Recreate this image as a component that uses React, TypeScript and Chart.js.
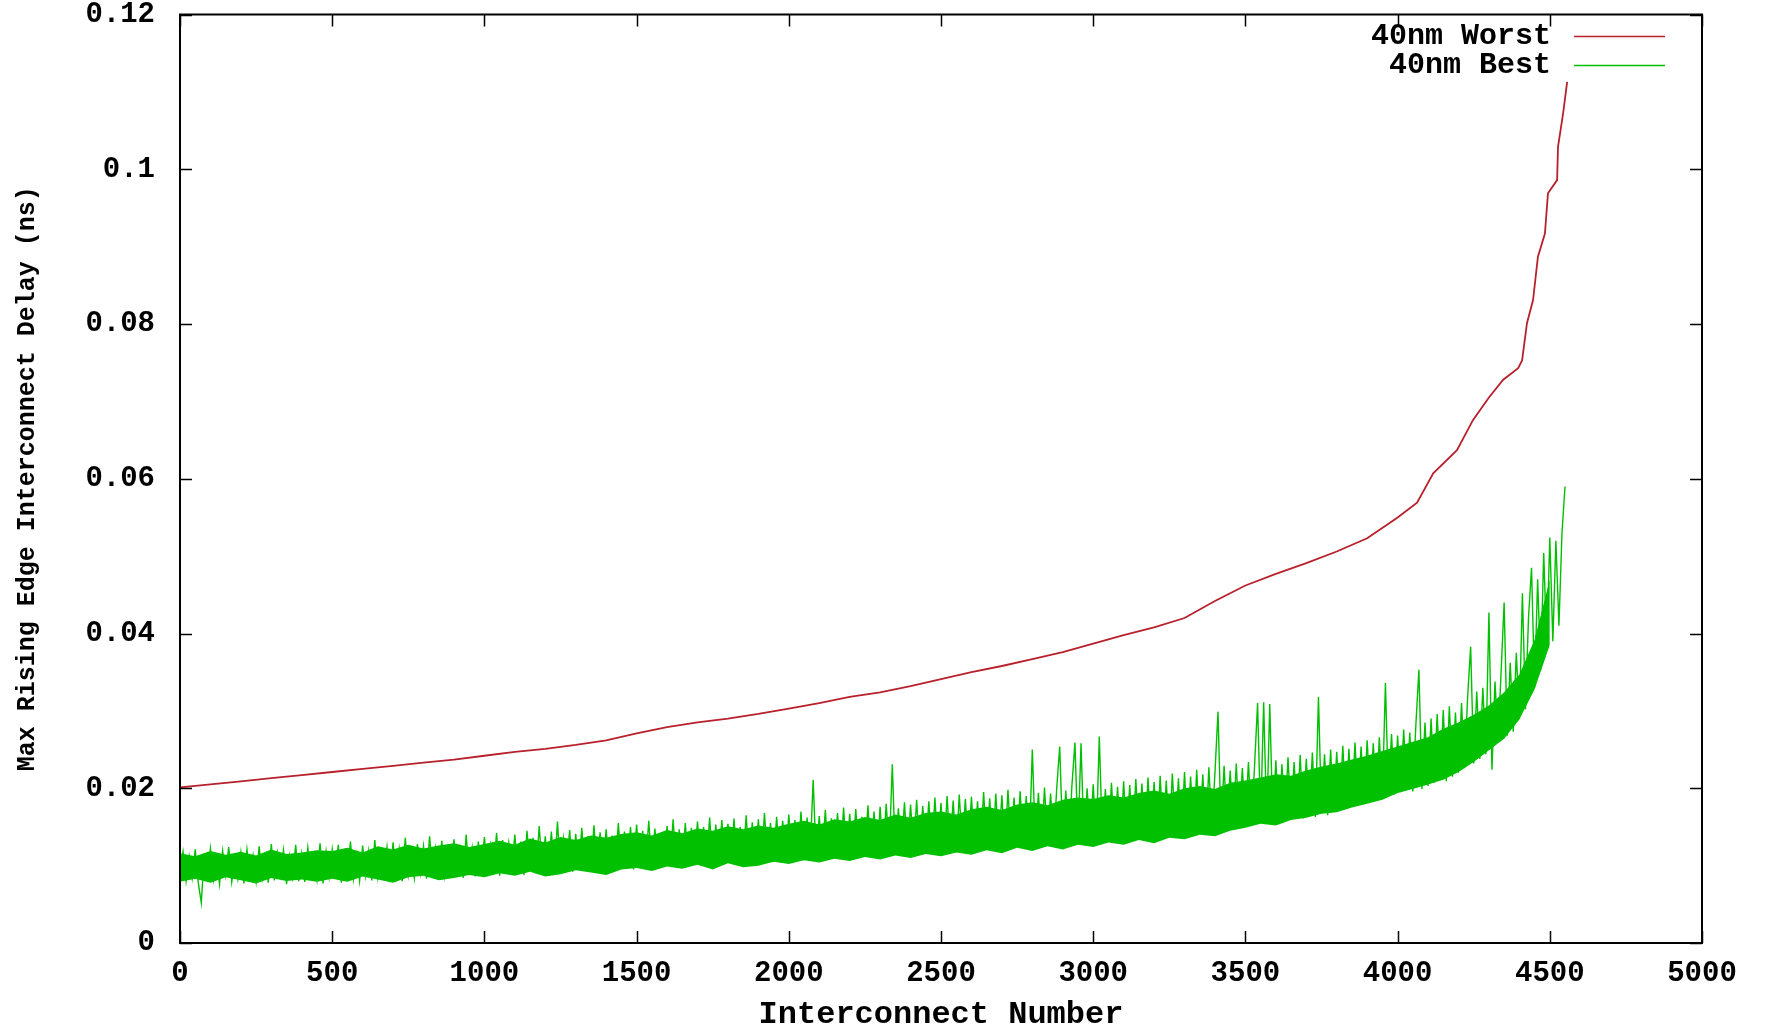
import React, { useEffect, useRef } from "react";
import { Chart, registerables } from "chart.js";

Chart.register(...registerables);

const FONT = '"Liberation Mono", "DejaVu Sans Mono", monospace';

const xTickValues = [0, 500, 1000, 1500, 2000, 2500, 3000, 3500, 4000, 4500, 5000];
const yTickValues = [0, 0.02, 0.04, 0.06, 0.08, 0.1, 0.12];
const yTickLabels = ["0", "0.02", "0.04", "0.06", "0.08", "0.1", "0.12"];

const xTitle = "Interconnect Number";
const yTitle = "Max Rising Edge Interconnect Delay (ns)";
const seriesNames = ["40nm Worst", "40nm Best"];

// 40nm Worst: interconnect number -> delay (ns)
const worstX = [
  0, 100, 200, 300, 400, 500, 600, 700, 800, 900, 1000, 1100, 1200, 1300, 1400, 1500, 1600, 1700, 1800, 1900,
  2000, 2100, 2200, 2300, 2400, 2500, 2600, 2700, 2800, 2900, 3000, 3100, 3200, 3300, 3400, 3500, 3600, 3700,
  3800, 3900, 3975, 4000, 4064, 4117, 4195, 4248, 4300, 4347, 4396, 4409, 4425, 4445, 4461, 4484, 4494, 4524,
  4527, 4544, 4557,
];
const worstY = [
  0.0201, 0.0205, 0.0209, 0.0213, 0.0217, 0.0221, 0.0225, 0.0229, 0.0233, 0.0237, 0.0242, 0.0247, 0.0251,
  0.0256, 0.0262, 0.0271, 0.0279, 0.0285, 0.029, 0.0296, 0.0303, 0.031, 0.0318, 0.0324, 0.0332, 0.0341, 0.035,
  0.0358, 0.0367, 0.0376, 0.0387, 0.0398, 0.0408, 0.042, 0.0442, 0.0462, 0.0477, 0.0491, 0.0506, 0.0523, 0.0543,
  0.055, 0.0569, 0.0607, 0.0637, 0.0676, 0.0705, 0.0728, 0.0743, 0.0753, 0.0801, 0.0831, 0.0887, 0.0917, 0.0969,
  0.0986, 0.1029, 0.1073, 0.1113,
];

// 40nm Best: one reading every 10 interconnects (0 .. 4550), in units of 1e-4 ns
const bestStep = 10;
const bestTenThousandths = [
  95, 118, 80, 112, 84, 121, 78, 52, 116, 85,
  122, 82, 110, 76, 119, 88, 124, 79, 108, 83,
  117, 77, 121, 86, 113, 80, 125, 84, 111, 78,
  128, 81, 116, 87, 120, 76, 112, 85, 127, 80,
  115, 79, 123, 88, 110, 82, 129, 77, 118, 86,
  121, 84, 127, 78, 116, 89, 131, 83, 114, 80,
  126, 87, 119, 81, 133, 85, 117, 90, 124, 82,
  130, 86, 121, 80, 136, 88, 118, 84, 128, 91,
  125, 83, 138, 89, 122, 85, 132, 87, 119, 92,
  134, 88, 127, 84, 140, 90, 123, 86, 131, 93,
  137, 89, 126, 95, 142, 87, 133, 91, 129, 96,
  140, 92, 131, 88, 145, 94, 136, 90, 151, 97,
  138, 93, 144, 89, 157, 95, 135, 98, 146, 92,
  141, 96, 149, 94, 138, 99, 152, 95, 143, 97,
  147, 100, 139, 96, 155, 98, 144, 101, 150, 95,
  153, 99, 145, 103, 158, 97, 148, 102, 142, 100,
  151, 104, 160, 98, 147, 103, 155, 101, 149, 106,
  157, 102, 150, 107, 162, 100, 153, 105, 159, 103,
  154, 106, 161, 101, 150, 108, 165, 104, 156, 107,
  160, 103, 168, 109, 155, 105, 163, 110, 158, 106,
  166, 108, 159, 111, 170, 107, 162, 112, 211, 109,
  164, 113, 172, 108, 161, 114, 168, 110, 175, 112,
  167, 115, 173, 111, 163, 116, 178, 113, 170, 117,
  176, 112, 180, 118, 231, 114, 174, 119, 182, 115,
  179, 120, 185, 116, 177, 121, 183, 118, 188, 122,
  181, 119, 190, 123, 184, 117, 192, 124, 186, 120,
  189, 125, 183, 121, 195, 126, 187, 122, 193, 127,
  191, 123, 198, 128, 188, 124, 196, 129, 190, 125,
  250, 130, 194, 126, 201, 131, 193, 127, 199, 254,
  132, 197, 128, 203, 259, 133, 258, 129, 200, 134,
  205, 130, 267, 135, 199, 131, 207, 136, 202, 132,
  209, 137, 204, 133, 212, 138, 206, 134, 214, 139,
  208, 135, 216, 141, 210, 137, 219, 142, 213, 138,
  221, 144, 215, 140, 224, 146, 218, 142, 227, 148,
  220, 299, 150, 229, 152, 223, 154, 232, 151, 226,
  156, 234, 153, 228, 310, 158, 311, 155, 309, 160,
  236, 157, 231, 162, 240, 159, 234, 164, 243, 161,
  238, 166, 246, 163, 318, 168, 244, 165, 250, 170,
  247, 172, 255, 175, 251, 178, 259, 181, 254, 184,
  262, 186, 258, 189, 266, 187, 336, 190, 270, 192,
  268, 195, 276, 198, 272, 196, 282, 353, 199, 285,
  203, 290, 207, 296, 212, 301, 209, 306, 215, 298,
  220, 310, 226, 318, 383, 232, 325, 238, 330, 244,
  427, 224, 338, 262, 350, 440, 268, 362, 273, 375,
  290, 452, 302, 420, 485, 330, 470, 353, 504, 383,
  524, 390, 520, 410, 530, 590,
];

// Dense core of the 40nm Best trace (where samples overlap into a solid band),
// read every 50 interconnects (0 .. 4500), in units of 1e-4 ns
const bestBandStep = 50;
const bestBandLow = [
  79, 83, 78, 85, 81, 77, 84, 80, 82, 79,
  83, 79, 86, 82, 78, 85, 87, 81, 84, 88,
  85, 90, 87, 92, 86, 89, 94, 91, 88, 95,
  97, 93, 99, 96, 101, 95, 103, 98, 100, 105,
  102, 107, 104, 109, 106, 111, 108, 113, 110, 115,
  112, 117, 114, 120, 116, 123, 119, 125, 121, 127,
  124, 130, 127, 133, 129, 136, 134, 140, 138, 145,
  149, 154, 152, 159, 162, 167, 169, 175, 180, 185,
  194, 199, 205, 211, 221, 234, 249, 264, 289, 328,
  385,
];
const bestBandHigh = [
  116, 112, 119, 114, 118, 113, 121, 115, 117, 120,
  119, 123, 117, 125, 121, 127, 122, 126, 129, 124,
  128, 132, 127, 135, 130, 137, 133, 139, 136, 141,
  143, 139, 146, 142, 148, 145, 151, 147, 152, 149,
  154, 158, 153, 160, 157, 163, 159, 166, 162, 168,
  170, 166, 173, 176, 172, 179, 182, 178, 185, 188,
  186, 191, 188, 194, 197, 193, 200, 203, 199, 207,
  210, 214, 218, 216, 223, 228, 232, 237, 242, 248,
  254, 260, 266, 277, 285, 295, 307, 324, 347, 392,
  470,
];

const worstColor = "#b8202c";
const bestColor = "#00c000";

const gnuplotFrame = {
  id: "gnuplotFrame",
  afterDatasetsDraw(chart: any) {
    const { ctx, chartArea, scales } = chart;
    const { left, right, top, bottom } = chartArea;
    const xs = scales.x;
    const ys = scales.y;
    const tick = 12;
    ctx.save();
    ctx.strokeStyle = "#000";
    ctx.lineWidth = 1.5;
    ctx.beginPath();
    xTickValues.forEach((v) => {
      const px = Math.round(xs.getPixelForValue(v)) + 0.5;
      ctx.moveTo(px, bottom);
      ctx.lineTo(px, bottom - tick);
      ctx.moveTo(px, top);
      ctx.lineTo(px, top + tick);
    });
    yTickValues.forEach((v) => {
      const py = Math.round(ys.getPixelForValue(v)) + 0.5;
      ctx.moveTo(left, py);
      ctx.lineTo(left + tick, py);
      ctx.moveTo(right, py);
      ctx.lineTo(right - tick, py);
    });
    ctx.stroke();
    ctx.lineWidth = 2;
    ctx.strokeRect(left, top, right - left, bottom - top);

    // gnuplot-style key: text right-aligned, sample line to the right
    ctx.font = `bold 30px ${FONT}`;
    ctx.textAlign = "right";
    ctx.textBaseline = "middle";
    ctx.fillStyle = "#000";
    const colors = [worstColor, bestColor];
    seriesNames.forEach((name, i) => {
      const yy = top + 22 + i * 29;
      ctx.fillText(name, right - 151, yy);
      ctx.strokeStyle = colors[i];
      ctx.lineWidth = 1.5;
      ctx.beginPath();
      ctx.moveTo(right - 128, yy);
      ctx.lineTo(right - 37, yy);
      ctx.stroke();
    });
    ctx.restore();
  },
};

export default function App() {
  const canvasRef = useRef<HTMLCanvasElement | null>(null);

  useEffect(() => {
    const canvas = canvasRef.current;
    if (!canvas) return;
    const worstData = worstX.map((x, i) => ({ x, y: worstY[i] }));
    const bestData = bestTenThousandths.map((v, i) => ({ x: i * bestStep, y: v / 10000 }));
    const bandLowData = bestBandLow.map((v, i) => ({ x: i * bestBandStep, y: v / 10000 }));
    const bandHighData = bestBandHigh.map((v, i) => ({ x: i * bestBandStep, y: v / 10000 }));

    const chart = new Chart(canvas, {
      type: "line",
      data: {
        datasets: [
          {
            label: seriesNames[0],
            data: worstData,
            borderColor: worstColor,
            borderWidth: 1.8,
            pointRadius: 0,
            tension: 0,
            fill: false,
          },
          {
            label: seriesNames[1],
            data: bestData,
            borderColor: bestColor,
            borderWidth: 1.4,
            pointRadius: 0,
            tension: 0,
            fill: false,
          },
          {
            label: seriesNames[1] + " core low",
            data: bandLowData,
            borderColor: bestColor,
            borderWidth: 0,
            pointRadius: 0,
            tension: 0,
            fill: false,
          },
          {
            label: seriesNames[1] + " core high",
            data: bandHighData,
            borderColor: bestColor,
            backgroundColor: bestColor,
            borderWidth: 0,
            pointRadius: 0,
            tension: 0,
            fill: "-1",
          },
        ],
      },
      options: {
        responsive: true,
        maintainAspectRatio: false,
        animation: false,
        events: [],
        layout: { padding: { left: 0, right: 64, top: 14, bottom: 0 } },
        plugins: {
          legend: { display: false },
          tooltip: { enabled: false },
        },
        scales: {
          x: {
            type: "linear",
            min: 0,
            max: 5000,
            afterBuildTicks: (s: any) => {
              s.ticks = xTickValues.map((value) => ({ value }));
            },
            afterFit: (s: any) => {
              s.height = 85;
            },
            grid: { display: true, drawOnChartArea: false, drawTicks: true, tickLength: 13, tickColor: "rgba(0,0,0,0)" },
            border: { display: false },
            ticks: {
              autoSkip: false,
              maxRotation: 0,
              padding: 0,
              color: "#000",
              font: { family: FONT, size: 29, weight: "bold", lineHeight: 1.2 },
              callback: (v: any) => String(v),
            },
            title: {
              display: true,
              text: xTitle,
              color: "#000",
              font: { family: FONT, size: 32, weight: "bold", lineHeight: 0.8 },
              padding: { top: 0, bottom: 0 },
            },
          },
          y: {
            type: "linear",
            min: 0,
            max: 0.12,
            afterBuildTicks: (s: any) => {
              s.ticks = yTickValues.map((value) => ({ value }));
            },
            afterFit: (s: any) => {
              s.width = 180;
            },
            grid: { display: true, drawOnChartArea: false, drawTicks: true, tickLength: 25, tickColor: "rgba(0,0,0,0)" },
            border: { display: false },
            ticks: {
              autoSkip: false,
              padding: 0,
              color: "#000",
              font: { family: FONT, size: 29, weight: "bold", lineHeight: 1.0 },
              callback: (_v: any, i: number) => yTickLabels[i],
            },
            title: {
              display: true,
              text: yTitle,
              color: "#000",
              font: { family: FONT, size: 25, weight: "bold", lineHeight: 1.2 },
              padding: { top: 13, bottom: 0 },
            },
          },
        },
      },
      plugins: [gnuplotFrame],
    } as any);

    return () => chart.destroy();
  }, []);

  return (
    <div style={{ position: "fixed", left: 0, top: 0, width: 1766, height: 1028, background: "#fff" }}>
      <canvas ref={canvasRef} />
    </div>
  );
}
